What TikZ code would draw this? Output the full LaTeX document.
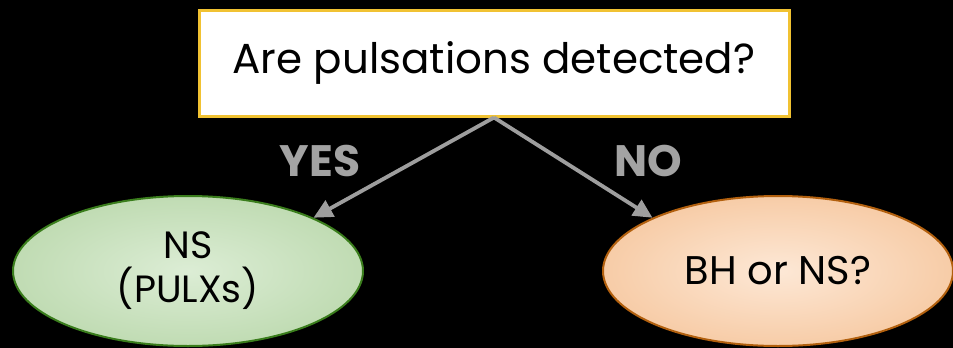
\documentclass[tikz,border=0pt]{standalone}
\usepackage{fontspec}
\setmainfont{Poppins}
\usetikzlibrary{shapes.geometric,arrows.meta}

\definecolor{boxgold}{HTML}{F1C232}
\definecolor{linkgray}{HTML}{9E9E9E}
\definecolor{labelgray}{HTML}{A3A3A3}
\definecolor{greenin}{HTML}{DCEDD5}
\definecolor{greenout}{HTML}{A4CA91}
\definecolor{greenrim}{HTML}{3A7D1C}
\definecolor{orangein}{HTML}{FDE8D6}
\definecolor{orangeout}{HTML}{F1B078}
\definecolor{orangerim}{HTML}{B2600E}

% soft glow from the middle of each ellipse out to its rim
\pgfdeclareradialshading{greenglow}{\pgfpoint{0bp}{0bp}}{color(0bp)=(greenin); color(50bp)=(greenout)}
\pgfdeclareradialshading{orangeglow}{\pgfpoint{0bp}{0bp}}{color(0bp)=(orangein); color(50bp)=(orangeout)}

\tikzset{
  question/.style={draw=boxgold, line width=3pt, fill=white, inner sep=0pt,
    minimum width=590pt, minimum height=106pt,
    font=\fontsize{42}{50}\selectfont},
  outcome/.style={ellipse, inner sep=0pt, line width=2pt, align=center,
    minimum width=350pt, minimum height=150pt},
  answer/.style={text=labelgray, anchor=base,
    font=\fontsize{44}{48}\selectfont\bfseries},
  link/.style={draw=linkgray, line width=3.8pt,
    -{Triangle[length=19pt,width=18pt]}},
}

\begin{document}
\begin{tikzpicture}[x=1pt, y=-1pt]
  \fill[black] (0,0) rectangle (953,348);
  \useasboundingbox (0,0) rectangle (953,348);

  \node[question] (q) at (494,63) {Are pulsations detected?};

  \node[outcome, draw=greenrim, shading=greenglow,
        font=\fontsize{38}{44}\selectfont] (ns) at (188,271)
    {NS\\(PULXs)};
  \node[outcome, draw=orangerim, shading=orangeglow,
        font=\fontsize{40}{44}\selectfont] (bh) at (778,271)
    {BH or NS?};

  \node[answer] (yes) at (320,176) {YES};
  \node[answer] (no) at (648,176) {NO};

  \draw[link] (q.south) -- (ns.23);
  \draw[link] (q.south) -- (bh.157);
\end{tikzpicture}
\end{document}
